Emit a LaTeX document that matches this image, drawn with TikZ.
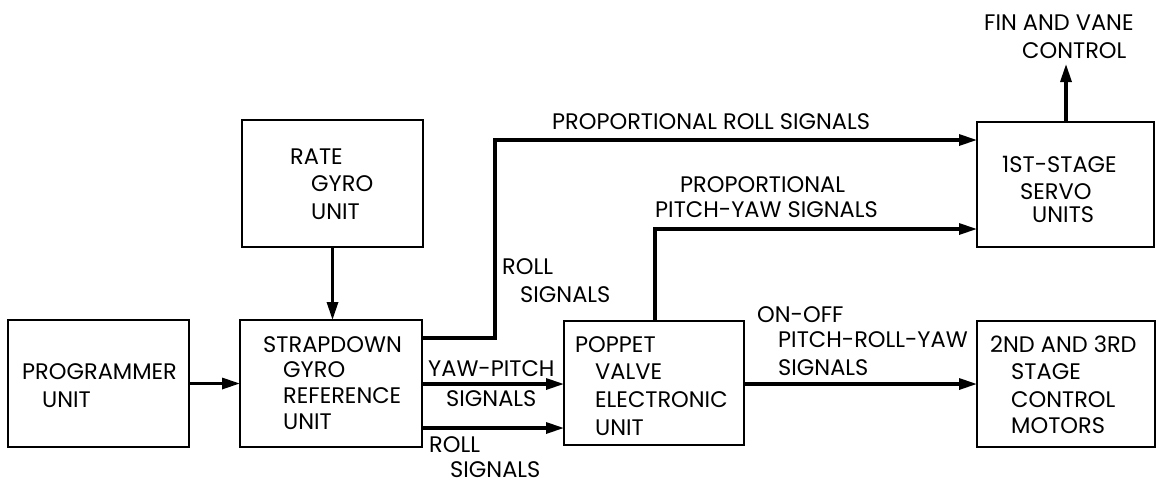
\documentclass[tikz,border=0pt]{standalone}
\usepackage{fontspec}
\setmainfont{Poppins}
\usetikzlibrary{arrows.meta}
\begin{document}
\begin{tikzpicture}[x=1pt,y=-1pt,
  box/.style={draw, line width=2pt, inner sep=0pt, outer sep=0pt},
  arr/.style={line width=3.2pt, -{Triangle[length=18pt,width=11pt]}},
  lbl/.style={anchor=base west, inner sep=0pt, text depth=0pt, font=\fontsize{22.5}{26}\selectfont}
]
\useasboundingbox (0,0) rectangle (1157,483);
% boxes
\node[box, minimum width=181pt, minimum height=127pt] (prog) at (98.5,383.5) {};
\node[box, minimum width=182pt, minimum height=127pt] (strap) at (331,383.5) {};
\node[box, minimum width=181pt, minimum height=127pt] (rate) at (332.5,183.5) {};
\node[box, minimum width=180pt, minimum height=124pt] (poppet) at (654,383) {};
\node[box, minimum width=177pt, minimum height=125pt] (servo) at (1065.5,184.5) {};
\node[box, minimum width=178pt, minimum height=126pt] (motors) at (1066,384) {};
% box texts
\node[lbl] (t1) at (22,379) {PROGRAMMER};
\node[lbl] (t2) at (42,407) {UNIT};
\node[lbl] (t3) at (263,352) {STRAPDOWN};
\node[lbl] (t4) at (283,377.5) {GYRO};
\node[lbl] (t5) at (283,403) {REFERENCE};
\node[lbl] (t6) at (283,429) {UNIT};
\node[lbl] (t7) at (290,164) {RATE};
\node[lbl] (t8) at (311,191) {GYRO};
\node[lbl] (t9) at (311,219) {UNIT};
\node[lbl] (t10) at (575,352) {POPPET};
\node[lbl] (t11) at (595,379) {VALVE};
\node[lbl] (t12) at (595,407) {ELECTRONIC};
\node[lbl] (t13) at (595,435) {UNIT};
\node[lbl] (t14) at (1002,172) {1ST-STAGE};
\node[lbl] (t15) at (1020,199) {SERVO};
\node[lbl] (t16) at (1032,222) {UNITS};
\node[lbl] (t17) at (990,352) {2ND AND 3RD};
\node[lbl] (t18) at (1011,379) {STAGE};
\node[lbl] (t19) at (1011,407) {CONTROL};
\node[lbl] (t20) at (1011,433) {MOTORS};
% connector labels
\node[lbl] (l1) at (984,30) {FIN AND VANE};
\node[lbl] (l2) at (1022,58) {CONTROL};
\node[lbl] (l3) at (552,129) {PROPORTIONAL ROLL SIGNALS};
\node[lbl] (l4) at (680,192) {PROPORTIONAL};
\node[lbl] (l5) at (655,217) {PITCH-YAW SIGNALS};
\node[lbl] (l6) at (502,274) {ROLL};
\node[lbl] (l7) at (520,302) {SIGNALS};
\node[lbl] (l8) at (428,376) {YAW-PITCH};
\node[lbl] (l9) at (446,406) {SIGNALS};
\node[lbl] (l10) at (429,452) {ROLL};
\node[lbl] (l11) at (450,477) {SIGNALS};
\node[lbl] (l12) at (757,322) {ON-OFF};
\node[lbl] (l13) at (778,347) {PITCH-ROLL-YAW};
\node[lbl] (l14) at (778,375) {SIGNALS};
% coordinates
\coordinate (rollA) at (495,338);
\coordinate (rollB) at (495,140);
\coordinate (yp) at (500,384);
\coordinate (rl) at (500,428);
\coordinate (pyA) at (655,229);
\coordinate (onoff) at (860,384);
\coordinate (fin) at (1066,64);
% connectors
\draw[arr] (prog.east) -- (strap.west);
\draw[arr] (rate.south) -- (rate.south |- strap.north);
\draw[arr] (strap.east |- rollA) -- (rollA) -- (rollB) -- (servo.west |- rollB);
\draw[arr] (strap.east |- yp) -- (poppet.west |- yp);
\draw[arr] (strap.east |- rl) -- (poppet.west |- rl);
\draw[arr] (poppet.north -| pyA) -- (pyA) -- (servo.west |- pyA);
\draw[arr] (poppet.east |- onoff) -- (motors.west |- onoff);
\draw[arr] (servo.north -| fin) -- (fin);
\end{tikzpicture}
\end{document}
